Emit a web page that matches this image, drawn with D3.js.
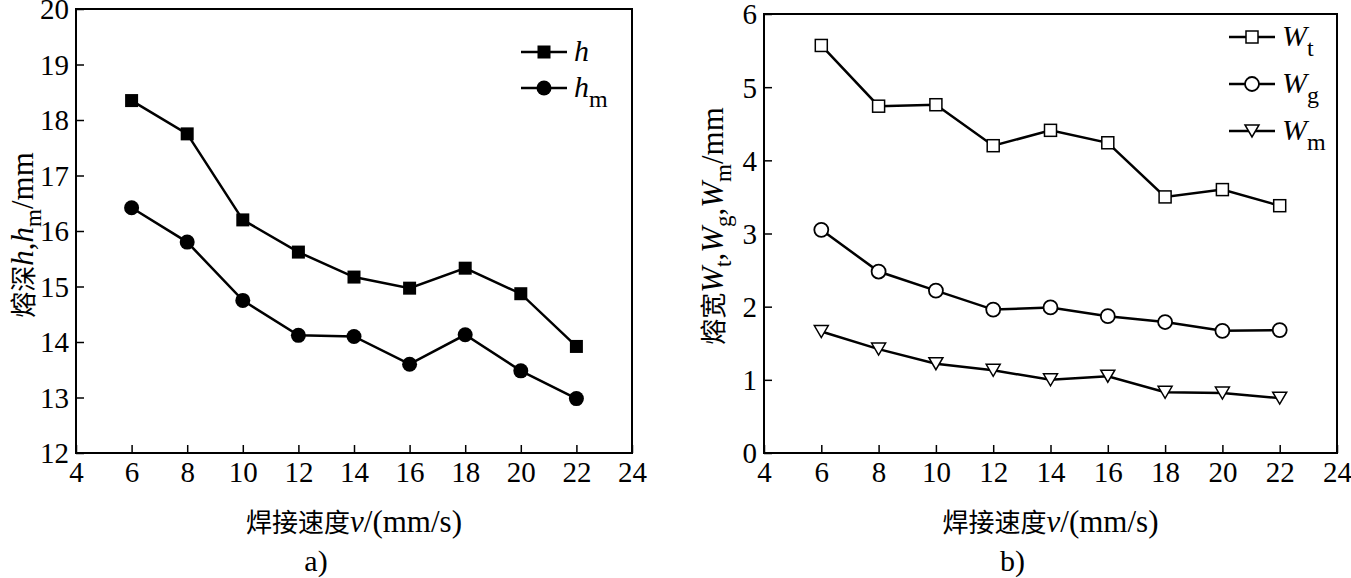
<!DOCTYPE html>
<html><head><meta charset="utf-8">
<script src="https://cdn.jsdelivr.net/npm/d3@7"></script>
<style>
body{margin:0;background:#fff;}
svg{display:block;}
</style></head>
<body><svg id="c" width="1351" height="578"></svg>
<script>
const speeds = [6,8,10,12,14,16,18,20,22];
const hVals  = [18.35,17.75,16.2,15.62,15.17,14.97,15.33,14.87,13.92];
const hmVals = [16.42,15.8,14.75,14.12,14.1,13.6,14.13,13.48,12.98];
const wtVals = [5.57,4.74,4.76,4.2,4.41,4.24,3.5,3.6,3.38];
const wgVals = [3.05,2.48,2.22,1.96,1.99,1.87,1.79,1.67,1.68];
const wmVals = [1.66,1.42,1.22,1.13,1.0,1.05,0.83,0.82,0.75];
const xTicks = [4,6,8,10,12,14,16,18,20,22,24];
const yTicksA = [12,13,14,15,16,17,18,19,20];
const yTicksB = [0,1,2,3,4,5,6];

const svg = d3.select("#c");
const CJK = "'Noto Sans CJK SC'";
const SER = "'Liberation Serif'";

function panel(o){
  const x = d3.scaleLinear().domain([4,24]).range([o.x0,o.x1]);
  const y = d3.scaleLinear().domain(o.ydom).range([o.y1,o.y0]);
  const g = svg.append("g");
  const gx = g.append("g").attr("transform",`translate(0,${o.y1})`)
    .call(d3.axisBottom(x).tickValues(xTicks).tickFormat(d3.format("d")).tickSizeInner(-8).tickSizeOuter(0).tickPadding(8));
  gx.select(".domain").remove();
  gx.selectAll("line").attr("stroke","#000").attr("stroke-width",1.5);
  gx.selectAll("text").attr("fill","#000").style("font-family",SER).style("font-size","29px");
  const gy = g.append("g").attr("transform",`translate(${o.x0},0)`)
    .call(d3.axisLeft(y).tickValues(o.yticks).tickFormat(d3.format("d")).tickSizeInner(-8).tickSizeOuter(0).tickPadding(7));
  gy.select(".domain").remove();
  gy.selectAll("line").attr("stroke","#000").attr("stroke-width",1.5);
  gy.selectAll("text").attr("fill","#000").attr("dy","0.34em").style("font-family",SER).style("font-size","29px");
  g.append("rect").attr("x",o.x0).attr("y",o.y0).attr("width",o.x1-o.x0).attr("height",o.y1-o.y0)
    .attr("fill","none").attr("stroke","#000").attr("stroke-width",2);
  const line = d3.line().x((d,i)=>x(speeds[i])).y(d=>y(d));
  o.series.forEach(s=>{
    g.append("path").attr("d",line(s.vals)).attr("fill","none").attr("stroke","#000").attr("stroke-width",2.5);
    s.vals.forEach((v,i)=>marker(g,s.m,x(speeds[i]),y(v)));
  });
  o.series.forEach((s,i)=>{
    const ly = o.leg.y + i*o.leg.dy;
    g.append("line").attr("x1",o.leg.x).attr("x2",o.leg.x+o.leg.w).attr("y1",ly).attr("y2",ly)
      .attr("stroke","#000").attr("stroke-width",2.5);
    marker(g,s.m,o.leg.x+o.leg.w/2,ly);
    const t = g.append("text").attr("x",o.leg.x+o.leg.w+7).attr("y",ly+9)
      .style("font-family",SER).style("font-size","30px");
    t.append("tspan").style("font-style","italic").text(s.name);
    if(s.sub) t.append("tspan").attr("dy",10).style("font-size","24px").text(s.sub);
  });
  const tx = g.append("text").attr("x",(o.x0+o.x1)/2).attr("y",532).attr("text-anchor","middle").style("font-size","31px").style("font-family",SER);
  tx.append("tspan").style("font-family",CJK).style("font-size","26px").text("焊接速度");
  tx.append("tspan").style("font-style","italic").text("v");
  tx.append("tspan").text("/(mm/s)");
  g.append("text").attr("x",(o.x0+o.x1)/2 - 38).attr("y",571).attr("text-anchor","middle")
    .style("font-family",SER).style("font-size","30px").text(o.tag);
  const ty = g.append("text").attr("transform",`translate(${o.ytx},${o.yty}) rotate(-90)`)
    .attr("text-anchor","middle").style("font-size","31px").style("font-family",SER);
  o.ytitle.forEach(p=>{
    const ts = ty.append("tspan").text(p.t);
    if(p.cjk) ts.style("font-family",CJK).style("font-size","26px");
    if(p.it) ts.style("font-style","italic");
    if(p.sub){ ts.attr("dy",8).style("font-size","23px"); }
    if(p.up){ ts.attr("dy",-8); }
  });
}

function marker(g,m,cx,cy){
  if(m==="fsq") g.append("rect").attr("x",cx-6.5).attr("y",cy-6.5).attr("width",13).attr("height",13).attr("fill","#000");
  else if(m==="fci") g.append("circle").attr("cx",cx).attr("cy",cy).attr("r",7.5).attr("fill","#000");
  else if(m==="osq") g.append("rect").attr("x",cx-6).attr("y",cy-6).attr("width",12).attr("height",12).attr("fill","#fff").attr("stroke","#000").attr("stroke-width",1.5);
  else if(m==="oci") g.append("circle").attr("cx",cx).attr("cy",cy).attr("r",7).attr("fill","#fff").attr("stroke","#000").attr("stroke-width",1.8);
  else if(m==="otr") g.append("path").attr("d",`M${cx-7},${cy-6}L${cx+7},${cy-6}L${cx},${cy+6}Z`).attr("fill","#fff").attr("stroke","#000").attr("stroke-width",1.5);
}

panel({x0:76,x1:632,y0:9,y1:453,ydom:[12,20],yticks:yTicksA,tag:"a)",
  series:[{name:"h",vals:hVals,m:"fsq"},{name:"h",sub:"m",vals:hmVals,m:"fci"}],
  leg:{x:521,y:52,dy:36,w:46},
  ytx:33,yty:235,
  ytitle:[{t:"熔深",cjk:true},{t:"h",it:true},{t:","},{t:"h",it:true},{t:"m",sub:true},{t:"/mm",up:true}]
});
panel({x0:764,x1:1337,y0:14,y1:453,ydom:[0,6],yticks:yTicksB,tag:"b)",
  series:[{name:"W",sub:"t",vals:wtVals,m:"osq"},{name:"W",sub:"g",vals:wgVals,m:"oci"},{name:"W",sub:"m",vals:wmVals,m:"otr"}],
  leg:{x:1229,y:37,dy:47,w:46},
  ytx:723,yty:226,
  ytitle:[{t:"熔宽",cjk:true},{t:"W",it:true},{t:"t",sub:true},{t:",",up:true},{t:"W",it:true},{t:"g",sub:true},{t:",",up:true},{t:"W",it:true},{t:"m",sub:true},{t:"/mm",up:true}]
});
</script></body></html>
